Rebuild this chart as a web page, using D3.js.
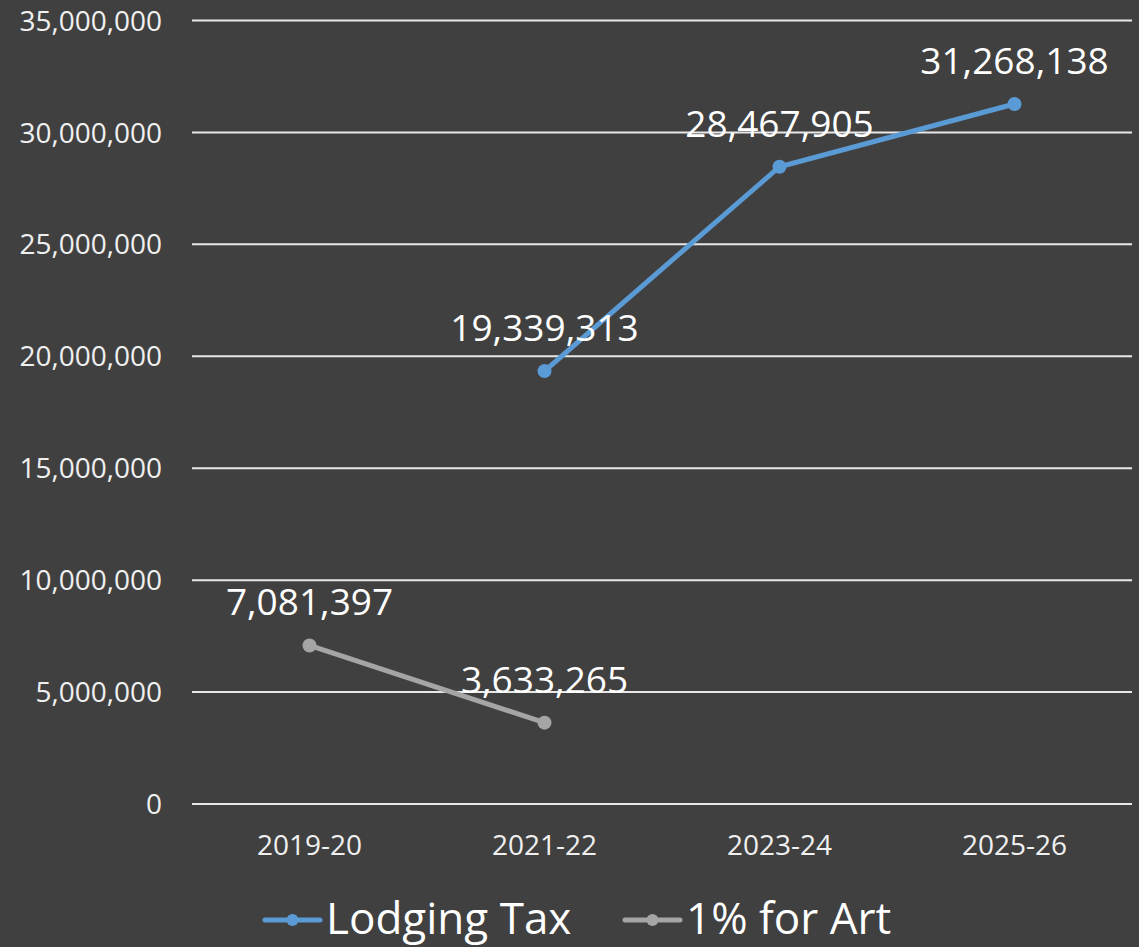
<!DOCTYPE html>
<html>
<head>
<meta charset="utf-8">
<script src="https://cdn.jsdelivr.net/npm/d3@7"></script>
<style>
  html, body { margin: 0; padding: 0; background: #404040; }
  svg { display: block; }
</style>
</head>
<body>
<div id="chart"></div>
<script>
// chart data
const categories = ['2019-20', '2021-22', '2023-24', '2025-26']
const lodgingTax = [null, 19339313, 28467905, 31268138]
const artPercent = [7081397, 3633265, null, null]
const yTicks = [0, 5000000, 10000000, 15000000, 20000000, 25000000, 30000000, 35000000]
const seriesNames = ['Lodging Tax', '1% for Art']

const width = 1139,
  height = 947,
  margin = {top: 20.5, right: 7, bottom: 143, left: 192},
  font = "'Open Sans', sans-serif",
  colors = ['#5b9bd5', '#a5a5a5']

const svg = d3.select('#chart').append('svg')
  .attr('width', width)
  .attr('height', height)
svg.append('rect')
  .attr('width', width)
  .attr('height', height)
  .attr('fill', '#404040')

const xScale = d3.scalePoint()
  .domain(categories)
  .range([margin.left, width - margin.right])
  .padding(0.5)
const yScale = d3.scaleLinear()
  .domain([0, 35000000])
  .range([height - margin.bottom, margin.top])
const fmt = d3.format(',')

// gridlines
svg.append('g').selectAll('line').data(yTicks)
  .enter().append('line')
  .attr('x1', margin.left)
  .attr('x2', width - margin.right)
  .attr('y1', d => yScale(d))
  .attr('y2', d => yScale(d))
  .attr('stroke', '#e8e8e8')
  .attr('stroke-width', 2)

// y axis labels
svg.append('g').selectAll('text').data(yTicks)
  .enter().append('text')
  .text(d => fmt(d))
  .attr('x', 162)
  .attr('y', d => yScale(d))
  .attr('dy', '0.36em')
  .attr('fill', '#f0f0f0')
  .style('text-anchor', 'end')
  .style('font-family', font)
  .style('font-size', '28px')

// x axis labels
svg.append('g').selectAll('text').data(categories)
  .enter().append('text')
  .text(d => d)
  .attr('x', d => xScale(d))
  .attr('y', 855)
  .attr('fill', '#f0f0f0')
  .style('text-anchor', 'middle')
  .style('font-family', font)
  .style('font-size', '28px')

// series
const series = [lodgingTax, artPercent].map((vals, i) => ({
  name: seriesNames[i],
  color: colors[i],
  points: vals.map((v, j) => ({cat: categories[j], value: v})).filter(p => p.value !== null)
}))

const line = d3.line()
  .x(d => xScale(d.cat))
  .y(d => yScale(d.value))

for(const s of series) {
  const g = svg.append('g')
  g.append('path')
    .datum(s.points)
    .attr('d', line)
    .attr('fill', 'none')
    .attr('stroke', s.color)
    .attr('stroke-width', 5)
    .attr('stroke-linecap', 'round')
  g.selectAll('circle').data(s.points)
    .enter().append('circle')
    .attr('cx', d => xScale(d.cat))
    .attr('cy', d => yScale(d.value))
    .attr('r', 7)
    .attr('fill', s.color)
  g.selectAll('text').data(s.points)
    .enter().append('text')
    .text(d => fmt(d.value))
    .attr('x', d => xScale(d.cat))
    .attr('y', d => yScale(d.value) - 30)
    .attr('fill', '#ffffff')
    .style('text-anchor', 'middle')
    .style('font-family', font)
    .style('font-size', '37px')
}

// legend
const legendX = [265, 625]
const legendG = svg.append('g')
series.forEach((s, i) => {
  const lg = legendG.append('g').attr('transform', `translate(${legendX[i]}, 920)`)
  lg.append('line')
    .attr('x1', 0).attr('x2', 55)
    .attr('y1', 0).attr('y2', 0)
    .attr('stroke', s.color)
    .attr('stroke-width', 5)
    .attr('stroke-linecap', 'round')
  lg.append('circle')
    .attr('cx', 27.5).attr('cy', 0).attr('r', 6)
    .attr('fill', s.color)
  lg.append('text')
    .text(s.name)
    .attr('x', 61)
    .attr('y', 14)
    .attr('fill', '#ffffff')
    .style('font-family', font)
    .style('font-size', '44px')
})
</script>
</body>
</html>
